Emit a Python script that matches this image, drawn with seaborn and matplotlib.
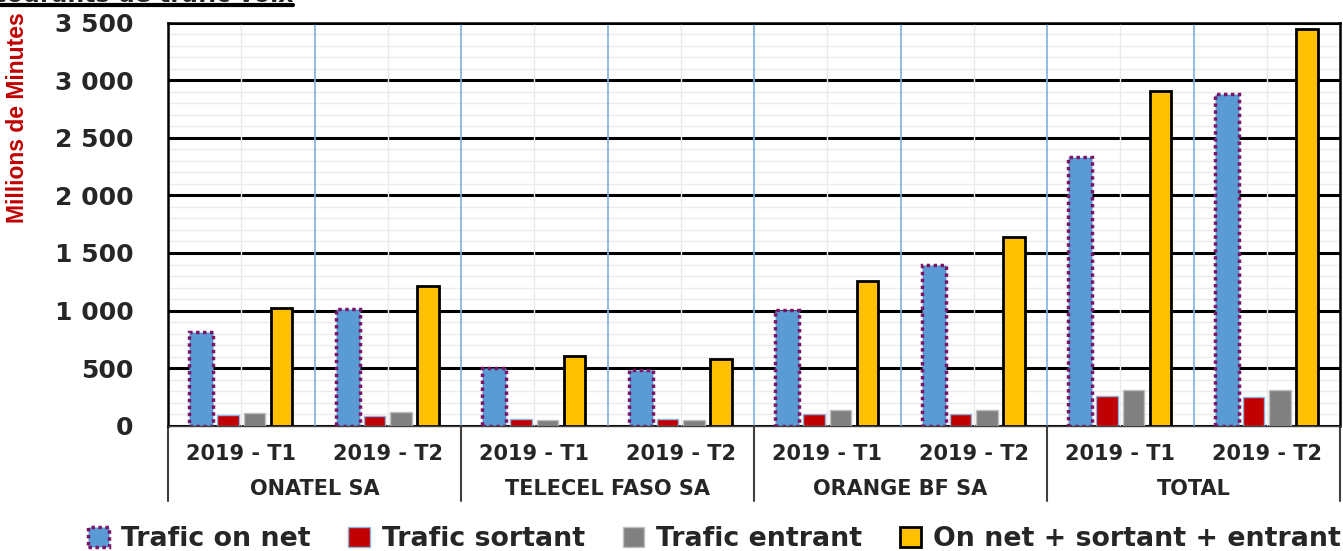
import numpy as np
import pandas as pd
import matplotlib
matplotlib.use("Agg")
import matplotlib.pyplot as plt
import matplotlib.ticker as mticker
from matplotlib.lines import Line2D
import seaborn as sns

operateurs = ["ONATEL SA", "TELECEL FASO SA", "ORANGE BF SA", "TOTAL"]
periodes = ["2019 - T1", "2019 - T2"]
series = ["Trafic on net", "Trafic sortant", "Trafic entrant",
          "On net + sortant + entrant"]
couleurs = ["#5B9BD5", "#C00000", "#808080", "#FFC000"]

# millions de minutes, ordre : ONATEL T1/T2, TELECEL T1/T2, ORANGE T1/T2, TOTAL T1/T2
trafic_on_net = [812, 1012, 501, 480, 1008, 1392, 2330, 2882]
trafic_sortant = [90, 84, 55, 55, 104, 104, 255, 247]
trafic_entrant = [108, 116, 50, 50, 137, 137, 310, 310]
trafic_total = [1021, 1209, 609, 580, 1261, 1643, 2907, 3442]

cles = [f"{o} {p}" for o in operateurs for p in periodes]
df = pd.DataFrame({
    "cle": cles * 4,
    "serie": np.repeat(series, len(cles)),
    "valeur": trafic_on_net + trafic_sortant + trafic_entrant + trafic_total,
})

sns.set_style("white")
plt.rcParams["font.family"] = ["DejaVu Sans"]
plt.rcParams["font.weight"] = "bold"

fig = plt.figure(figsize=(13.43, 5.51), dpi=100)
ax = fig.add_axes([0.1251, 0.2274, 0.8727, 0.7314])

sns.barplot(data=df, x="cle", y="valeur", hue="serie", hue_order=series,
            palette=couleurs, saturation=1, width=0.73, gap=0.2,
            legend=False, ax=ax)

# styles des contours par serie
styles = [
    dict(edgecolor="#7A1466", linewidth=2.5, linestyle=(0, (1, 1))),
    dict(edgecolor="#8DB4E2", linewidth=1.0, linestyle="-"),
    dict(edgecolor="#BFBFBF", linewidth=1.0, linestyle="-"),
    dict(edgecolor="black", linewidth=2.0, linestyle="-"),
]
for cont, st in zip(ax.containers, styles):
    for p in cont.patches:
        p.set(**st)
for p in ax.containers[0].patches:
    w = p.get_width()
    p.set_x(p.get_x() - (0.165 - w) / 2)
    p.set_width(0.165)

ax.set_ylim(0, 3500)
ax.set_xlim(-0.5, len(cles) - 0.5)
ax.set_yticks(np.arange(0, 3501, 500))
ax.set_yticks(np.arange(0, 3501, 100), minor=True)
ax.set_xticks(np.arange(len(cles)))
ax.set_xticks(np.arange(0.5, len(cles) - 1, 1), minor=True)
ax.set_xticklabels(periodes * len(operateurs), fontsize=15, fontweight="bold")
ax.yaxis.set_major_formatter(
    mticker.FuncFormatter(lambda v, _: f"{int(v):,}".replace(",", " ")))
for lab in ax.get_yticklabels():
    lab.set_fontsize(18)
    lab.set_fontweight("bold")
ax.tick_params(axis="both", which="both", length=0)
ax.tick_params(axis="x", pad=13)
ax.tick_params(axis="y", pad=25)

ax.set_axisbelow(True)
ax.grid(axis="y", which="major", color="black", linewidth=2.2)
ax.grid(axis="y", which="minor", color="#EBEBEB", linewidth=1)
ax.grid(axis="x", which="major", color="#EBEBEB", linewidth=1)
ax.grid(axis="x", which="minor", color="#7FB0DC", linewidth=1.2)
# lignes verticales bleues au-dessus du quadrillage horizontal fin
ax.xaxis.set_zorder(0.6)
ax.yaxis.set_zorder(0.5)

for s in ["top", "right", "left"]:
    ax.spines[s].set_color("black")
    ax.spines[s].set_linewidth(1.8)
ax.spines["bottom"].set_color("#404040")
ax.spines["bottom"].set_linewidth(1.0)

ax.set_xlabel("")
ax.set_ylabel("Millions de Minutes", color="#C00000", fontsize=16.5,
              fontweight="bold", family=["Liberation Sans", "DejaVu Sans"])
ax.yaxis.set_label_coords(-0.119, 0.764)

# libelles des operateurs et separateurs sous l'axe
trans = ax.get_xaxis_transform()
n = len(periodes)
for i, op in enumerate(operateurs):
    ax.text(i * n + (n - 1) / 2, -0.157, op, transform=trans, ha="center",
            va="center", fontsize=15, fontweight="bold")
for i in range(len(operateurs) + 1):
    xb = i * n - 0.5
    ax.plot([xb, xb], [0, -0.187], transform=trans, color="#404040",
            linewidth=1.5, clip_on=False)

handles = [cont.patches[0] for cont in ax.containers]
fig.legend(handles, series, loc="center", bbox_to_anchor=(0.532, 0.021),
           ncol=4, frameon=False, handlelength=0.8,
           handleheight=0.8, handletextpad=0.45, columnspacing=1.4,
           prop={"weight": "bold", "size": 19.3})

# titre coupe en haut
fig.text(293 / 1343, 1 - 1.5 / 551, "Evolution des courants de trafic voix",
         ha="right", va="baseline", fontsize=17, fontweight="bold")
fig.add_artist(Line2D([0, 293 / 1343], [1 - 5 / 551] * 2,
                      transform=fig.transFigure, color="black", linewidth=3))

fig.savefig("out.png", dpi=100)
